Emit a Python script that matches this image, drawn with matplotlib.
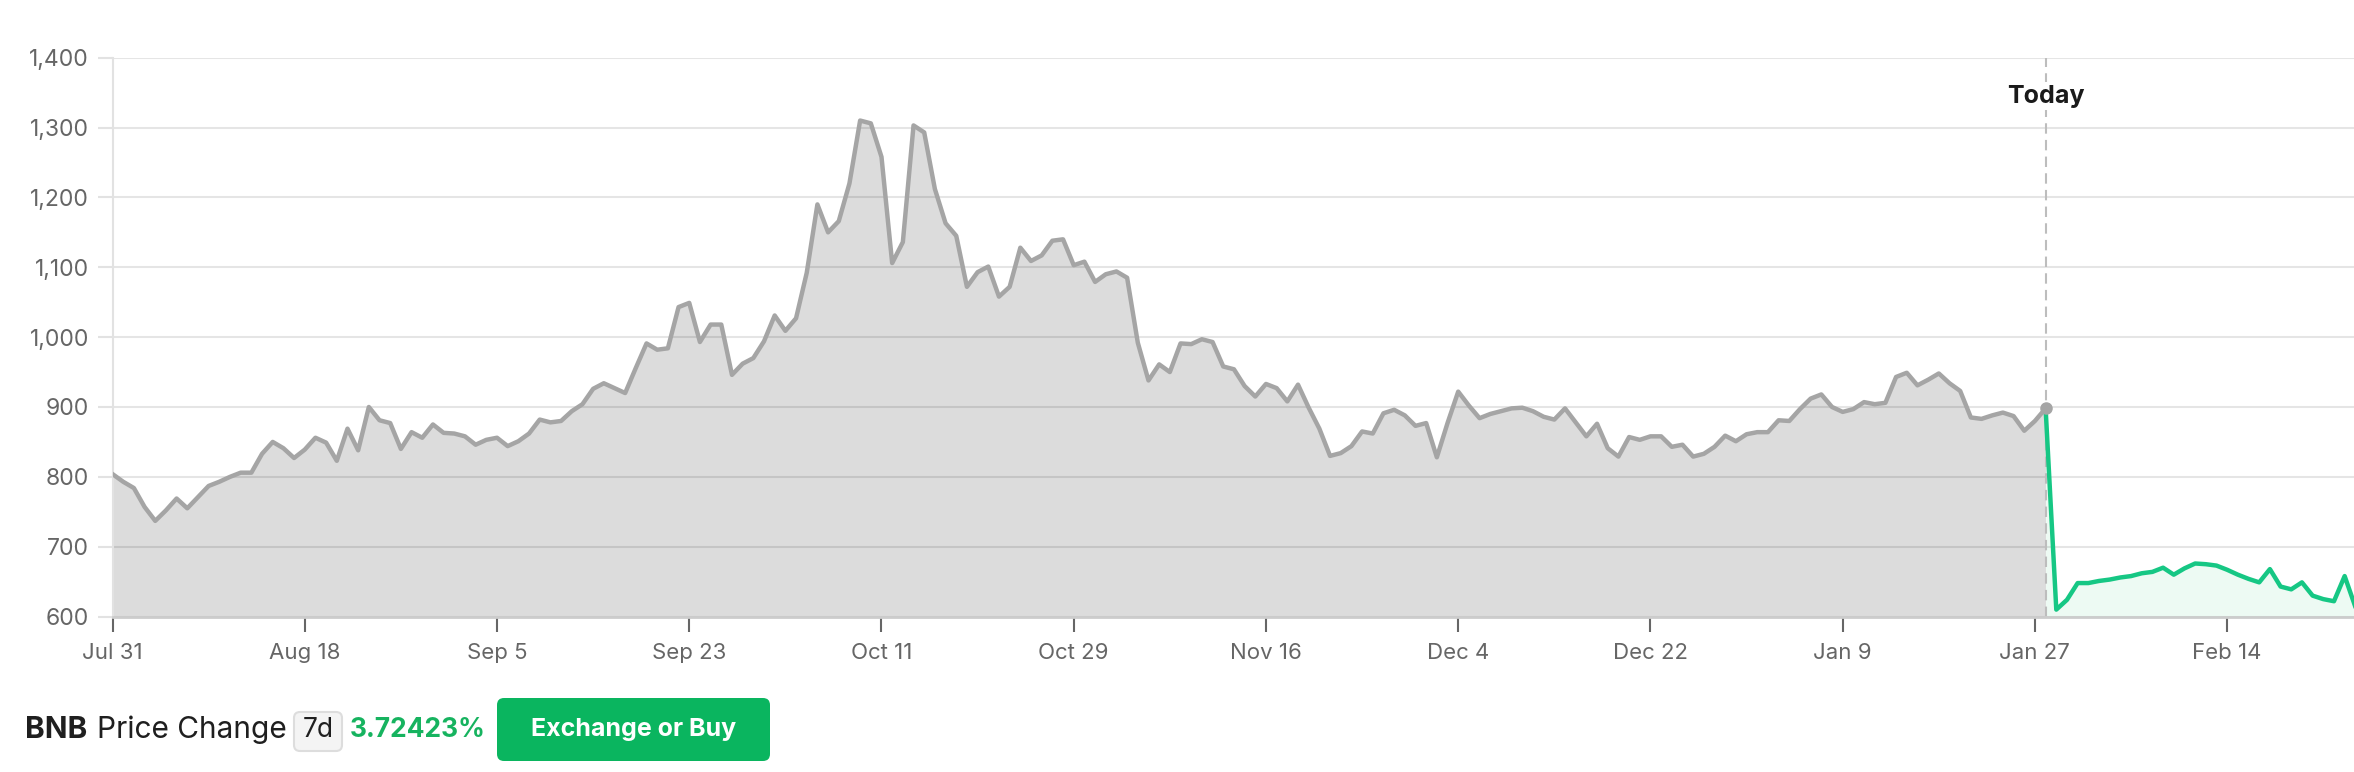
import numpy as np
import pandas as pd
import matplotlib
matplotlib.use("Agg")
import matplotlib.pyplot as plt
import matplotlib.dates as mdates
from matplotlib.patches import FancyBboxPatch
from matplotlib.transforms import IdentityTransform

plt.rcParams['font.family'] = ['Inter', 'DejaVu Sans']

# daily close, Jul 31 2025 .. Jan 28 2026 (today)
hist_values = [
    804, 793, 784, 757, 737, 752, 769, 755, 771, 787,
    793, 800, 806, 806, 833, 850, 841, 827, 839, 856,
    849, 823, 869, 838, 900, 881, 877, 840, 864, 856,
    875, 863, 862, 858, 846, 853, 856, 844, 851, 862,
    882, 878, 880, 894, 904, 926, 934, 927, 920, 956,
    991, 982, 984, 1043, 1049, 993, 1018, 1018, 946, 962,
    970, 994, 1031, 1009, 1027, 1092, 1190, 1150, 1166, 1220,
    1310, 1306, 1258, 1106, 1136, 1303, 1293, 1212, 1163, 1145,
    1072, 1093, 1101, 1058, 1072, 1128, 1109, 1117, 1138, 1140,
    1103, 1108, 1079, 1090, 1094, 1085, 992, 938, 961, 950,
    991, 990, 997, 993, 958, 954, 930, 915, 933, 927,
    908, 932, 899, 869, 830, 834, 844, 865, 862, 891,
    896, 888, 873, 877, 828, 877, 922, 902, 884, 890,
    894, 898, 899, 894, 886, 882, 898, 878, 858, 876,
    841, 829, 857, 853, 858, 858, 843, 846, 829, 833,
    843, 859, 851, 861, 864, 864, 881, 880, 897, 912,
    918, 900, 893, 897, 907, 904, 906, 943, 949, 931,
    939, 948, 934, 923, 885, 883, 888, 892, 887, 866,
    880, 898,
]
# prediction, Jan 28 .. Feb 26 2026
pred_values = [
    898, 610, 624, 648, 648, 651, 653, 656, 658, 662,
    664, 670, 660, 669, 676, 675, 673, 667, 660, 654,
    649, 668, 643, 639, 649, 630, 625, 622, 658, 614,
]
start_date = "2025-07-31"
today_date = "2026-01-28"
x_end = "2026-02-25 21:00"
tick_labels = ['Jul 31', 'Aug 18', 'Sep 5', 'Sep 23', 'Oct 11', 'Oct 29',
               'Nov 16', 'Dec 4', 'Dec 22', 'Jan 9', 'Jan 27', 'Feb 14']
y_ticks = [600, 700, 800, 900, 1000, 1100, 1200, 1300, 1400]

hist_dates = pd.date_range(start_date, periods=len(hist_values), freq='D')
pred_dates = pd.date_range(today_date, periods=len(pred_values), freq='D')
tick_dates = pd.date_range(start_date, periods=len(tick_labels), freq='18D')
today = pd.Timestamp(today_date)

fig = plt.figure(figsize=(23.54, 7.72), dpi=100)
ax = fig.add_axes([0.0478, 0.2013, 0.9522, 0.724])

ax.fill_between(hist_dates, hist_values, 600, color='#dcdcdc', linewidth=0, zorder=1)
ax.plot(hist_dates, hist_values, color='#a5a5a5', linewidth=3.2, zorder=3)
ax.fill_between(pred_dates, pred_values, 600, color='#edfaf3', linewidth=0, zorder=1)
ax.plot(pred_dates, pred_values, color='#16c784', linewidth=3.2, zorder=3)

ax.axvline(today, color='#bdbdbd', linewidth=1.5, linestyle=(0, (5, 3)), zorder=2)
ax.plot([today], [hist_values[-1]], 'o', color='#a5a5a5', markersize=8, zorder=4)
ax.text(today, 1345, 'Today', ha='center', va='center', fontsize=18, fontweight='bold',
        color='#1a1a1a', zorder=5,
        bbox=dict(facecolor='white', edgecolor='none', pad=2))

ax.set_ylim(600, 1400)
ax.set_xlim(hist_dates[0], pd.Timestamp(x_end))
ax.set_yticks(y_ticks)
ax.set_yticklabels(['{:,}'.format(v) for v in y_ticks])
ax.set_xticks(tick_dates)
ax.set_xticklabels(tick_labels)

ax.set_axisbelow('line')
ax.yaxis.grid(True, color='black', alpha=0.1, linewidth=1.5)
ax.tick_params(axis='y', length=11, width=1.5, color='#e2e2e2', pad=6,
               labelsize=16.5, labelcolor='#666666')
ax.tick_params(axis='x', length=11, width=1.5, color='#666666', pad=8,
               labelsize=16, labelcolor='#666666')
for side in ['top', 'right']:
    ax.spines[side].set_visible(False)
ax.spines['left'].set_color('#e2e2e2')
ax.spines['left'].set_linewidth(1.5)
ax.spines['bottom'].set_color('#cccccc')
ax.spines['bottom'].set_linewidth(2)

# footer row
H = 772
yc = 1 - 730 / H
fig.text(25 / 2354, yc, 'BNB', fontsize=21.5, fontweight='bold', color='#1f1f1f', va='center')
fig.text(97 / 2354, yc, 'Price Change', fontsize=21.5, color='#1f1f1f', va='center')
fig.patches.append(FancyBboxPatch((294, H - 751), 48, 39, boxstyle='round,pad=0,rounding_size=6',
                                  facecolor='#f4f4f4', edgecolor='#dddddd', linewidth=1.5,
                                  transform=IdentityTransform(), figure=fig))
fig.text(318 / 2354, yc, '7d', fontsize=19, color='#1f1f1f', va='center', ha='center')
fig.text(350 / 2354, yc, '3.72423%', fontsize=19, fontweight='bold', color='#16b35f', va='center')
fig.patches.append(FancyBboxPatch((497, H - 761), 273, 63, boxstyle='round,pad=0,rounding_size=7',
                                  facecolor='#0ab55f', edgecolor='none',
                                  transform=IdentityTransform(), figure=fig))
fig.text(633.5 / 2354, 1 - 729.5 / H, 'Exchange or Buy', fontsize=18, fontweight='bold',
         color='white', va='center', ha='center')

fig.savefig('out.png', dpi=100)
